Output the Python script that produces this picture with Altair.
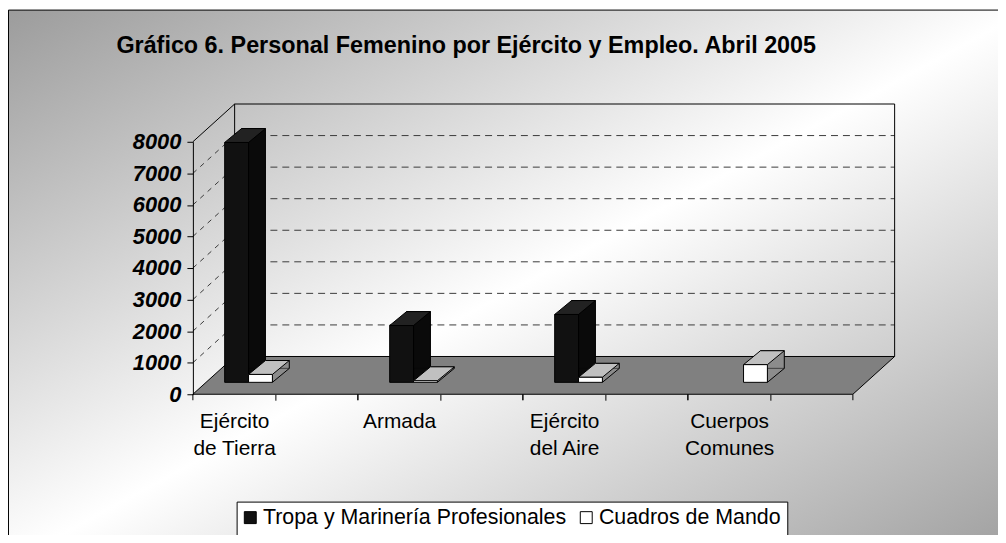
import altair as alt
import pandas as pd

# ---------------- data ----------------
CATEGORIES = ["Ejército de Tierra", "Armada", "Ejército del Aire", "Cuerpos Comunes"]
SERIES = ["Tropa y Marinería Profesionales", "Cuadros de Mando"]
TROPA = [7600, 1800, 2150, None]
CUADROS = [250, 50, 160, 560]
Y_TICKS = [0, 1000, 2000, 3000, 4000, 5000, 6000, 7000, 8000]
TITLE = "Gráfico 6. Personal Femenino por Ejército y Empleo. Abril 2005"

rows = []
for cat, t, c in zip(CATEGORIES, TROPA, CUADROS):
    rows.append({"cat": cat, "series": SERIES[0], "value": t})
    rows.append({"cat": cat, "series": SERIES[1], "value": c})
df = pd.DataFrame(rows)
cats_df = pd.DataFrame({"cat": CATEGORIES})
grid_df = pd.DataFrame({"v": Y_TICKS[1:-1]})
one_df = pd.DataFrame({"k": [0]})

# ---------------- layout / style ----------------
FONT = "Liberation Sans"
W, H = 664, 254
PAD_L, PAD_T, PAD_R, PAD_B = 186, 133, 146, 140
DX, DY = 42, -38          # depth of walls / floor
BAR_DY = -12              # bar row sits behind the front edge
BW = 24                   # bar front width
BDX, BDY = 17, -14        # bar depth
XOFF = {SERIES[0]: -39, SERIES[1]: -15}
FRONT = {SERIES[0]: "#111111", SERIES[1]: "#ffffff"}
TOPC = {SERIES[0]: "#222222", SERIES[1]: "#c0c0c0"}
SIDE = {SERIES[0]: "#0a0a0a", SERIES[1]: "#8c8c8c"}

XSCALE = alt.Scale(type="band", domain=CATEGORIES, paddingInner=0, paddingOuter=0)
YSCALE = alt.Scale(domain=[0, 8000], nice=False, zero=True)

XAXIS = alt.Axis(
    title=None, domain=False, grid=False, ticks=True, tickSize=6, tickColor="black",
    labelAngle=0, labelOffset=-41, labelPadding=10, labelFont=FONT, labelFontSize=21,
    labelColor="black", labelLineHeight=28, zindex=1,
    labelExpr="indexof(datum.label, ' ') < 0 ? datum.label : "
              "[slice(datum.label, 0, indexof(datum.label, ' ')), "
              "slice(datum.label, indexof(datum.label, ' ') + 1)]",
)
YAXIS = alt.Axis(
    title=None, values=Y_TICKS, format="d", grid=False, domain=True,
    domainColor="black", ticks=True, tickSize=6, tickColor="black",
    labelPadding=6, labelFont=FONT, labelFontSize=22, labelFontWeight="bold",
    labelFontStyle="italic", labelColor="black", zindex=1,
)
LEGEND = alt.Legend(
    title=None, orient="none", legendX=42, legendY=362, direction="horizontal",
    symbolType="square", symbolSize=144, symbolStrokeColor="black",
    symbolStrokeWidth=1, labelFont=FONT, labelFontSize=21.5, labelColor="black",
    labelLimit=0, columnPadding=9, labelOffset=2, padding=5, zindex=1,
)
COLOR_SCALE = alt.Scale(domain=SERIES, range=[FRONT[s] for s in SERIES])

X = alt.X("cat:N", scale=XSCALE, axis=XAXIS)

# ---------------- decorations ----------------
bg = alt.Chart(one_df).mark_rect(
    fill=alt.Gradient(
        gradient="linear", x1=0, y1=0, x2=1, y2=1,
        stops=[alt.GradientStop(color="#9c9c9c", offset=0),
               alt.GradientStop(color="#ffffff", offset=0.5),
               alt.GradientStop(color="#9c9c9c", offset=1)],
    ),
    stroke="black", strokeWidth=1, opacity=1,
).encode(
    x=alt.value(-PAD_L + 0.5), x2=alt.value(W + PAD_R + 30),
    y=alt.value(-PAD_T + 0.5), y2=alt.value(H + PAD_B + 30),
)

floor = alt.Chart(one_df).mark_point(
    shape=f"M0,0L{W},0L{W + DX},{DY}L{DX},{DY}Z", size=4, filled=True,
    fill="#808080", stroke="black", strokeWidth=1, opacity=1,
).encode(x=alt.value(0), y=alt.value(H))

walls = alt.Chart(one_df).mark_point(
    shape=(f"M0,{-H}L{DX},{DY - H}L{W + DX},{DY - H}L{W + DX},{DY}"
           f"M{DX},{DY - H}L{DX},{DY}"),
    size=4, filled=False, stroke="black", strokeWidth=1, opacity=1,
).encode(x=alt.value(0), y=alt.value(H))

back_grid = alt.Chart(grid_df).mark_rule(
    stroke="#3a3a3a", strokeWidth=1, strokeDash=[7, 5], yOffset=DY, opacity=1,
).encode(
    x=alt.value(DX), x2=alt.value(W + DX),
    y=alt.Y("v:Q", scale=YSCALE, axis=YAXIS),
)

side_grid = alt.Chart(grid_df).mark_rule(
    stroke="#3a3a3a", strokeWidth=1, strokeDash=[5, 5], y2Offset=DY, opacity=1,
).encode(
    x=alt.value(0), x2=alt.value(DX),
    y=alt.Y("v:Q", scale=YSCALE, axis=YAXIS), y2=alt.Y2("v:Q"),
)

tick_start = alt.Chart(cats_df).mark_rule(stroke="black", strokeWidth=1).encode(
    x=alt.X("cat:N", scale=XSCALE, axis=XAXIS, bandPosition=0),
    y=alt.value(H), y2=alt.value(H + 6),
)
tick_end = alt.Chart(cats_df).mark_rule(stroke="black", strokeWidth=1).encode(
    x=alt.X("cat:N", scale=XSCALE, axis=XAXIS, bandPosition=1),
    y=alt.value(H), y2=alt.value(H + 6),
)

legend_box = alt.Chart(one_df).mark_rect(
    fill="white", stroke="black", strokeWidth=1, opacity=1,
).encode(
    x=alt.value(238 - 194 + 0.5), x2=alt.value(792 - 194 + 0.5),
    y=alt.value(503 - 141 + 0.5), y2=alt.value(H + PAD_B + 30),
)

title = alt.Chart(one_df).mark_text(
    text=TITLE, font=FONT, fontSize=23.5, fontWeight="bold", color="black",
    align="center", baseline="alphabetic",
).encode(x=alt.value(469 - 194), y=alt.value(52 - 141))


# ---------------- 3-D style bars ----------------
def series_layers(s):
    xo = XOFF[s]
    base = (
        alt.Chart(df)
        .transform_filter(alt.datum.series == s)
        .transform_filter("isValid(datum.value)")
        .transform_calculate(zero="0")
    )
    y = alt.Y("value:Q", scale=YSCALE, axis=YAXIS)
    y2 = alt.Y2("zero:Q")
    hw = BW / 2
    back = base.mark_bar(
        width=BW, xOffset=xo + BDX, yOffset=BAR_DY + BDY, y2Offset=BAR_DY + BDY,
        fill=SIDE[s], stroke="black", strokeWidth=1, opacity=1,
    ).encode(x=X, y=y, y2=y2)
    tri = base.mark_point(
        shape=f"M{hw + BDX},{BDY}L{hw},0L{hw},{BDY}", size=4, filled=True,
        fill=SIDE[s], stroke="black", strokeWidth=1, opacity=1,
        xOffset=xo, yOffset=BAR_DY,
    ).encode(x=X, y=alt.Y("zero:Q", scale=YSCALE, axis=YAXIS))
    top = base.mark_point(
        shape=f"M{-hw},0L{hw},0L{hw + BDX},{BDY}L{-hw + BDX},{BDY}Z", size=4,
        filled=True, fill=TOPC[s], stroke="black", strokeWidth=1, opacity=1,
        xOffset=xo, yOffset=BAR_DY,
    ).encode(x=X, y=y)
    front = base.mark_bar(
        width=BW, xOffset=xo, yOffset=BAR_DY, y2Offset=BAR_DY,
        stroke="black", strokeWidth=1, opacity=1,
    ).encode(
        x=X, y=y, y2=y2,
        color=alt.Color("series:N", scale=COLOR_SCALE, legend=LEGEND),
    )
    return [back, tri, top, front]


layers = [bg, floor, back_grid, side_grid, walls, tick_start, tick_end]
for s in SERIES:
    layers += series_layers(s)
layers += [legend_box, title]

chart = (
    alt.layer(*layers)
    .properties(
        width=W, height=H,
        autosize=alt.AutoSizeParams(type="none"),
        padding={"left": PAD_L, "top": PAD_T, "right": PAD_R, "bottom": PAD_B},
    )
    .configure_view(strokeWidth=0)
)

chart.save("out.html", embed_options={"renderer": "svg", "actions": False})
